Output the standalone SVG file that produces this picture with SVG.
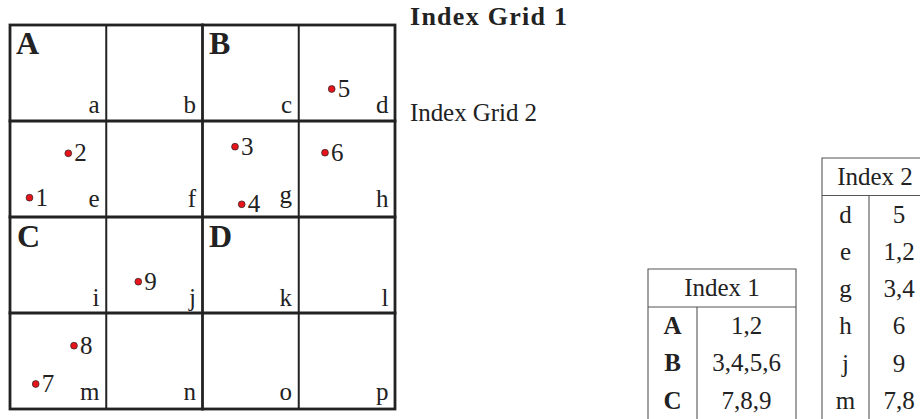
<svg xmlns="http://www.w3.org/2000/svg" width="920" height="419" viewBox="0 0 920 419">
<style>
text{font-family:"Liberation Serif","DejaVu Serif",serif;fill:#222}
.r{font-size:25px}
.b{font-size:25px;font-weight:bold}
.big{font-size:32px;font-weight:bold}
.e{text-anchor:end}
.m{text-anchor:middle}
.g{stroke:#222;fill:none;stroke-linecap:square}
.thick{stroke-width:2.8}
.thin{stroke-width:2}
.t{stroke:#555;stroke-width:1.1;fill:none}
.dot{fill:#e8141c;stroke:#222;stroke-width:0.7}
</style>
<g id="grid">
<line class="g thin" x1="106.25" y1="25" x2="106.25" y2="409"/>
<line class="g thin" x1="298.75" y1="25" x2="298.75" y2="409"/>
<line class="g thick" x1="10" y1="121" x2="395" y2="121"/>
<line class="g thick" x1="10" y1="313" x2="395" y2="313"/>
<line class="g thick" x1="202.5" y1="25" x2="202.5" y2="409"/>
<line class="g thick" x1="10" y1="217" x2="395" y2="217"/>
<rect class="g thick" x="10" y="25" width="385" height="384"/>
</g>
<g id="quadrant-labels">
<text class="big" x="16" y="54">A</text>
<text class="big" x="209" y="54">B</text>
<text class="big" x="17" y="247">C</text>
<text class="big" x="209" y="247">D</text>
</g>
<g id="cell-labels">
<text class="r e" x="99.5" y="113">a</text>
<text class="r e" x="196" y="113">b</text>
<text class="r e" x="292" y="113">c</text>
<text class="r e" x="388.5" y="113">d</text>
<text class="r e" x="99.5" y="206.5">e</text>
<text class="r e" x="196" y="206.5">f</text>
<text class="r e" x="292" y="203">g</text>
<text class="r e" x="388.5" y="206.5">h</text>
<text class="r e" x="99.5" y="305.5">i</text>
<text class="r e" x="196" y="305.5">j</text>
<text class="r e" x="292" y="305.5">k</text>
<text class="r e" x="388.5" y="305.5">l</text>
<text class="r e" x="99.5" y="399.5">m</text>
<text class="r e" x="196" y="399.5">n</text>
<text class="r e" x="292" y="399.5">o</text>
<text class="r e" x="388.5" y="399.5">p</text>
</g>
<g id="p1"><circle class="dot" cx="29.5" cy="197.7" r="3.4"/><text class="r" x="35.5" y="205.7">1</text></g>
<g id="p2"><circle class="dot" cx="68.3" cy="153.3" r="3.4"/><text class="r" x="74.3" y="161.3">2</text></g>
<g id="p3"><circle class="dot" cx="235" cy="146.7" r="3.4"/><text class="r" x="241" y="154.7">3</text></g>
<g id="p4"><circle class="dot" cx="241.7" cy="204.3" r="3.4"/><text class="r" x="247.7" y="212.3">4</text></g>
<g id="p5"><circle class="dot" cx="331.7" cy="89" r="3.4"/><text class="r" x="337.7" y="97">5</text></g>
<g id="p6"><circle class="dot" cx="325" cy="152.7" r="3.4"/><text class="r" x="331" y="160.7">6</text></g>
<g id="p7"><circle class="dot" cx="35.7" cy="384" r="3.4"/><text class="r" x="41.7" y="392">7</text></g>
<g id="p8"><circle class="dot" cx="74" cy="345.7" r="3.4"/><text class="r" x="80" y="353.7">8</text></g>
<g id="p9"><circle class="dot" cx="138.3" cy="281.7" r="3.4"/><text class="r" x="144.3" y="289.7">9</text></g>
<g id="titles">
<text class="b" x="410" y="25" style="font-size:26px" textLength="157" lengthAdjust="spacing">Index Grid 1</text>
<text class="r" x="410" y="120.5" textLength="127" lengthAdjust="spacing">Index Grid 2</text>
</g>
<g id="index1">
<path class="t" d="M648 419V269H796V419M648 307H796M697 307V419"/>
<text class="r m" x="722" y="296">Index 1</text>
<text class="b m" x="672.5" y="334">A</text>
<text class="r m" x="746.5" y="334">1,2</text>
<text class="b m" x="672.5" y="371.3">B</text>
<text class="r m" x="746.5" y="371.3">3,4,5,6</text>
<text class="b m" x="672.5" y="408.6">C</text>
<text class="r m" x="746.5" y="408.6">7,8,9</text>
</g>
<g id="index2">
<path class="t" d="M822 419V158H928V419M822 195.5H928M869 195.5V419"/>
<text class="r m" x="875" y="185">Index 2</text>
<text class="r m" x="845.5" y="222.5">d</text>
<text class="r m" x="899" y="222.5">5</text>
<text class="r m" x="845.5" y="259.8">e</text>
<text class="r m" x="899" y="259.8">1,2</text>
<text class="r m" x="845.5" y="297.1">g</text>
<text class="r m" x="899" y="297.1">3,4</text>
<text class="r m" x="845.5" y="334.4">h</text>
<text class="r m" x="899" y="334.4">6</text>
<text class="r m" x="845.5" y="371.7">j</text>
<text class="r m" x="899" y="371.7">9</text>
<text class="r m" x="845.5" y="409">m</text>
<text class="r m" x="899" y="409">7,8</text>
</g>
</svg>
